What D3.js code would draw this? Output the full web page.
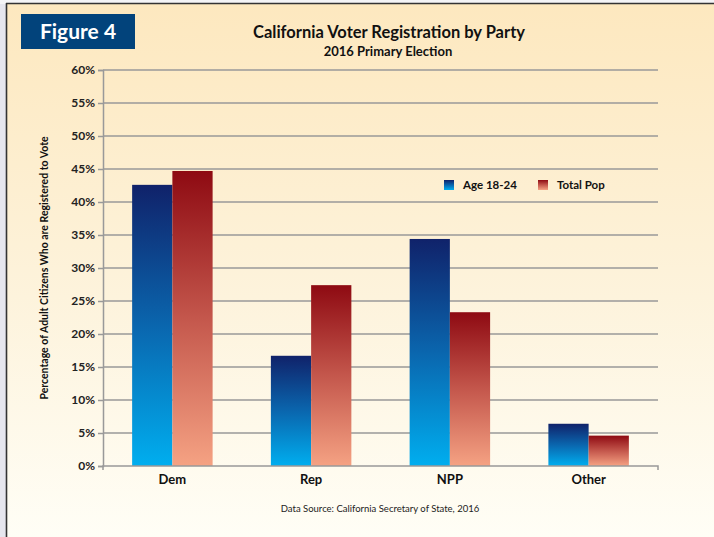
<!DOCTYPE html>
<html><head><meta charset="utf-8">
<script src="https://cdn.jsdelivr.net/npm/d3@7"></script>
<style>body{margin:0;padding:0;background:#e6e6ee;} svg{display:block;}</style>
</head><body>
<svg id="c" width="714" height="537"></svg>
<script>
const categories = ["Dem", "Rep", "NPP", "Other"];
const seriesNames = ["Age 18-24", "Total Pop"];
const age1824 = [42.6, 16.7, 34.4, 6.4];
const totalPop = [44.7, 27.4, 23.3, 4.6];
const yTicks = [0, 5, 10, 15, 20, 25, 30, 35, 40, 45, 50, 55, 60];

const svg = d3.select("#c");
const defs = svg.append("defs");
const bg = defs.append("linearGradient").attr("id","bg").attr("x1",0).attr("y1",0).attr("x2",0).attr("y2",1);
bg.append("stop").attr("offset","0%").attr("stop-color","#fde8bf");
bg.append("stop").attr("offset","55%").attr("stop-color","#fdf3dc");
bg.append("stop").attr("offset","100%").attr("stop-color","#fffef6");
const gB = defs.append("linearGradient").attr("id","gB").attr("x1",0).attr("y1",0).attr("x2",0).attr("y2",1);
gB.append("stop").attr("offset","0%").attr("stop-color","#10226a");
gB.append("stop").attr("offset","50%").attr("stop-color","#0a66ae");
gB.append("stop").attr("offset","100%").attr("stop-color","#00aeef");
const gR = defs.append("linearGradient").attr("id","gR").attr("x1",0).attr("y1",0).attr("x2",0).attr("y2",1);
gR.append("stop").attr("offset","0%").attr("stop-color","#8e0a12");
gR.append("stop").attr("offset","50%").attr("stop-color","#c4574c");
gR.append("stop").attr("offset","100%").attr("stop-color","#f5a283");

// frame
svg.append("rect").attr("x",0).attr("y",0).attr("width",714).attr("height",4).attr("fill","#f4f4f6");
svg.append("rect").attr("x",6).attr("y",4).attr("width",708).attr("height",533).attr("fill","url(#bg)");
svg.append("line").attr("x1",6.5).attr("x2",6.5).attr("y1",3).attr("y2",537).attr("stroke","#333").attr("stroke-width",1.6);
svg.append("line").attr("x1",6).attr("x2",714).attr("y1",3.5).attr("y2",3.5).attr("stroke","#333").attr("stroke-width",1.6);

// Figure label
svg.append("rect").attr("x",21).attr("y",14).attr("width",114).attr("height",35).attr("fill","#02437b");
svg.append("text").attr("x",78).attr("y",39).attr("text-anchor","middle").attr("fill","#fff")
  .attr("font-family","Lato, 'Open Sans', sans-serif").attr("font-weight","bold").attr("font-size",21).text("Figure 4");

const font = "Lato, 'Open Sans', sans-serif";
svg.append("text").attr("x",389).attr("y",38).attr("text-anchor","middle").attr("font-family",font)
  .attr("font-weight","bold").attr("font-size",16.5).attr("fill","#111").text("California Voter Registration by Party");
svg.append("text").attr("x",388).attr("y",56).attr("text-anchor","middle").attr("font-family",font)
  .attr("font-weight","bold").attr("font-size",13).attr("fill","#111").text("2016 Primary Election");

const L = 103, R = 658, T = 70, B = 466;
const y = d3.scaleLinear().domain([0,60]).range([B,T]);
const x0 = d3.scaleBand().domain(categories).range([L,R]).paddingInner(0.42).paddingOuter(0.21);
const x1 = d3.scaleBand().domain(seriesNames).range([0,x0.bandwidth()]);

// gridlines
svg.append("g").selectAll("line").data(yTicks.filter(d=>d>0)).join("line")
  .attr("x1",L).attr("x2",R).attr("y1",d=>y(d)).attr("y2",d=>y(d))
  .attr("stroke","#999").attr("stroke-width",1.5);

// y axis
const yAxis = svg.append("g").attr("transform",`translate(${L},0)`)
  .call(d3.axisLeft(y).tickValues(yTicks).tickFormat(d=>d+"%").tickSize(5).tickPadding(3));
yAxis.select(".domain").attr("stroke","#999").attr("stroke-width",1.5);
yAxis.selectAll(".tick line").attr("stroke","#999").attr("stroke-width",1.5);
yAxis.selectAll("text").attr("font-family",font).attr("font-weight","bold").attr("font-size",12).attr("fill","#222");

// bars
const data = categories.map((c,i)=>({c, vals:[{s:seriesNames[0],v:age1824[i],f:"url(#gB)"},{s:seriesNames[1],v:totalPop[i],f:"url(#gR)"}]}));
svg.append("g").selectAll("g").data(data).join("g").attr("transform",d=>`translate(${x0(d.c)},0)`)
  .selectAll("rect").data(d=>d.vals).join("rect")
  .attr("x",d=>x1(d.s)).attr("width",x1.bandwidth()).attr("y",d=>y(d.v)).attr("height",d=>B-y(d.v)).attr("fill",d=>d.f);

// x axis
const xAxis = svg.append("g").attr("transform",`translate(0,${B})`)
  .call(d3.axisBottom(x0).tickSize(0).tickPadding(9));
xAxis.select(".domain").attr("stroke","#999").attr("stroke-width",1.5).attr("d",`M${L},4V0H${R}V4`);
xAxis.selectAll("text").attr("font-family",font).attr("font-weight","bold").attr("font-size",13).attr("fill","#111");

// y axis title
svg.append("text").attr("transform","translate(48,268) rotate(-90)").attr("text-anchor","middle")
  .attr("font-family",font).attr("font-weight","bold").attr("font-size",10.5).attr("fill","#111")
  .text("Percentage of Adult Citizens Who are Registered to Vote");

// legend
const leg = svg.append("g");
const legX = [444, 538];
seriesNames.forEach((s,i)=>{
  leg.append("rect").attr("x",legX[i]).attr("y",180).attr("width",10).attr("height",10).attr("fill",i===0?"url(#gB)":"url(#gR)");
  leg.append("text").attr("x",legX[i]+19).attr("y",189).attr("font-family",font).attr("font-weight","bold")
    .attr("font-size",11.5).attr("fill","#111").text(s);
});

// source
svg.append("text").attr("x",380).attr("y",512).attr("text-anchor","middle").attr("font-family",font)
  .attr("font-size",9.5).attr("fill","#222").text("Data Source: California Secretary of State, 2016");
</script>
</body></html>
